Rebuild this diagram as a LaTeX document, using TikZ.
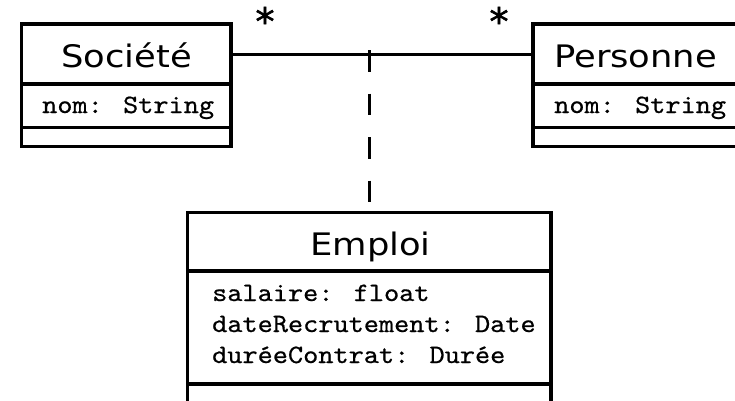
\documentclass[tikz,border=0pt]{standalone}
\usepackage{fontspec}
\newfontfamily\titlefont[FakeStretch=1.14]{DejaVu Sans}
\newfontfamily\starfont[FakeBold=1.5]{DejaVu Sans}
\newfontfamily\attrfont[Extension=.otf,FakeStretch=1.09,FakeBold=0.6]{lmmono10-regular}
\begin{document}
\begin{tikzpicture}[x=1pt,y=-1pt,
  comp/.style={draw=black, line width=3.5pt, fill=white, inner sep=0pt, rectangle},
  titletext/.style={inner sep=0pt, font=\titlefont\fontsize{31}{31}\selectfont},
  attrtext/.style={inner sep=0pt, font=\attrfont\fontsize{26.5}{31}\selectfont},
  mult/.style={inner sep=0pt, font=\starfont\fontsize{38}{38}\selectfont},
  assoc/.style={draw=black, line width=3pt},
  dashline/.style={draw=black, line width=3.4pt, dash pattern=on 21.5pt off 22pt, shorten <=-4pt}]
\clip (0,0) rectangle (735,400);
\fill[white] (0,0) rectangle (735,400);
% Societe
\node[comp, minimum width=209.5pt, minimum height=60pt] (socT) at (126.25,54) {};
\node[comp, minimum width=209.5pt, minimum height=43.5pt] (socA) at (126.25,105.75) {};
\node[comp, minimum width=209.5pt, minimum height=19pt] (socO) at (126.25,137) {};
\node[titletext, anchor=base] (socName) at (126.5,67) {Société};
\node[attrtext, anchor=base west] (socAttr) at (42,113) {nom: String};
% Personne
\node[comp, minimum width=227pt, minimum height=60pt] (perT) at (646.5,54) {};
\node[comp, minimum width=227pt, minimum height=43.5pt] (perA) at (646.5,105.75) {};
\node[comp, minimum width=227pt, minimum height=19pt] (perO) at (646.5,137) {};
\node[titletext, anchor=base west] (perName) at (554,67) {Personne};
\node[attrtext, anchor=base west] (perAttr) at (554,113) {nom: String};
% Emploi
\node[comp, minimum width=363.5pt, minimum height=58.5pt] (emT) at (369.25,241.75) {};
\node[comp, minimum width=363.5pt, minimum height=113pt] (emA) at (369.25,327.5) {};
\node[comp, minimum width=363.5pt, minimum height=19pt] (emO) at (369.25,393.5) {};
\node[titletext, anchor=base] (emName) at (370.5,255) {Emploi};
\node[attrtext, anchor=base west] (emAttr1) at (212,301) {salaire: float};
\node[attrtext, anchor=base west] (emAttr2) at (212,332) {dateRecrutement: Date};
\node[attrtext, anchor=base west] (emAttr3) at (212,363) {duréeContrat: Durée};
% connectors
\draw[assoc] (socT.east) -- (perT.west);
\draw[dashline] (emT.north |- socT.east) -- (emT.north);
% multiplicities
\node[mult, anchor=base] (m1) at (265,35) {*};
\node[mult, anchor=base] (m2) at (499,35) {*};
\end{tikzpicture}
\end{document}
